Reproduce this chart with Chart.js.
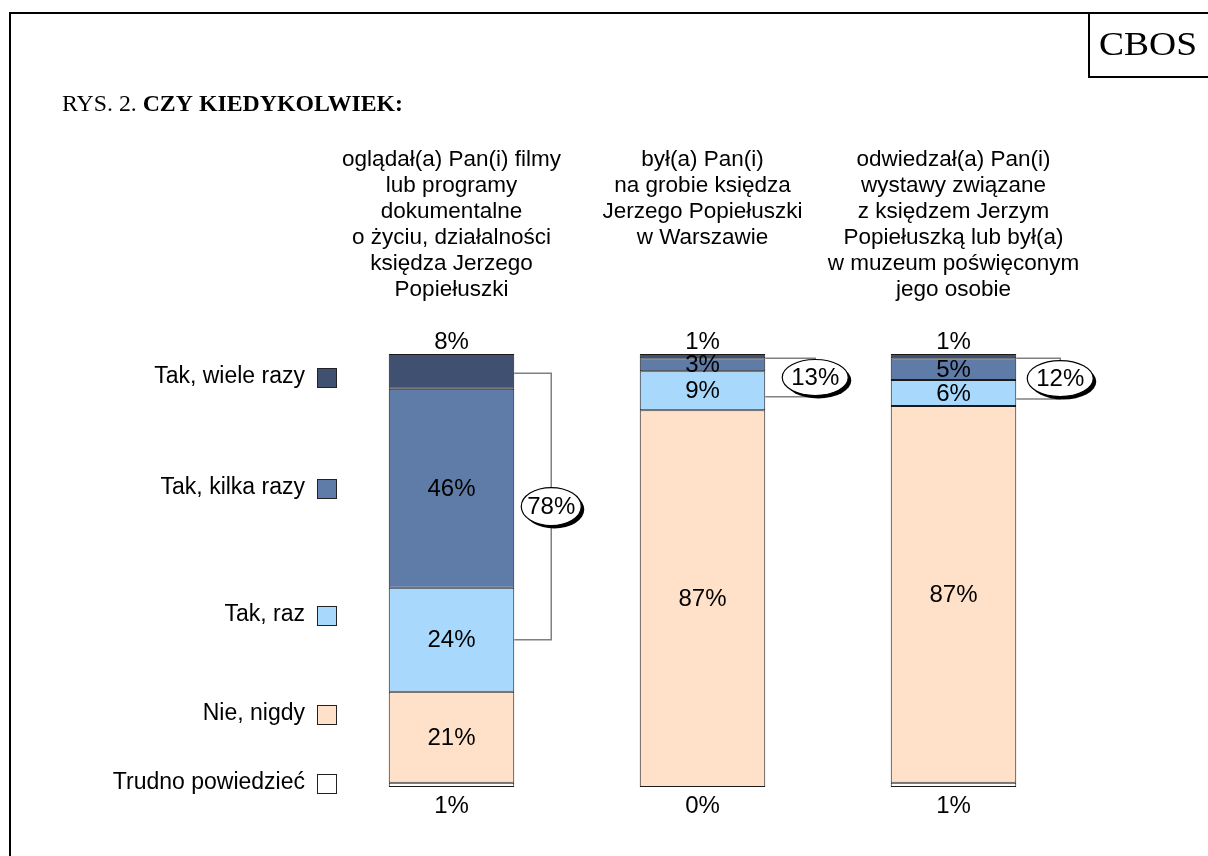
<!DOCTYPE html>
<html>
<head>
<meta charset="utf-8">
<script src="https://cdn.jsdelivr.net/npm/chart.js@4/dist/chart.umd.min.js"></script>
<style>
    body { margin: 0; background: #fff; }
    canvas { display: block; }
</style>
</head>
<body>
<canvas id="chart" width="1208" height="856"></canvas>
<script>
// Data
const categories = [
    ['oglądał(a) Pan(i) filmy', 'lub programy', 'dokumentalne', 'o życiu, działalności', 'księdza Jerzego', 'Popiełuszki'],
    ['był(a) Pan(i)', 'na grobie księdza', 'Jerzego Popiełuszki', 'w Warszawie'],
    ['odwiedzał(a) Pan(i)', 'wystawy związane', 'z księdzem Jerzym', 'Popiełuszką lub był(a)', 'w muzeum poświęconym', 'jego osobie']
];
const seriesNames = ['Trudno powiedzieć', 'Nie, nigdy', 'Tak, raz', 'Tak, kilka razy', 'Tak, wiele razy'];
const trudno = [1, 0, 1];
const nieNigdy = [21, 87, 87];
const takRaz = [24, 9, 6];
const takKilka = [46, 3, 5];
const takWiele = [8, 1, 1];
const takRazem = [78, 13, 12];
const colors = ['#ffffff', '#ffe0c8', '#a8d8fc', '#5f7ba8', '#3f5070'];

const values = [trudno, nieNigdy, takRaz, takKilka, takWiele];

const FONT = '"Liberation Sans", Arial, sans-serif';
const SERIF = '"Liberation Serif", "Times New Roman", serif';

// legend rows (text right-aligned next to a small square)
const legendY = [783, 714, 615, 488, 377];

function wideText(c, txt, x, y, sx) {
    c.save();
    c.translate(x, y);
    c.scale(sx, 1);
    c.fillText(txt, 0, 0);
    c.restore();
}

const decor = {
    id: 'decor',
    beforeDraw(chart) {
        const c = chart.ctx;
        c.save();
        c.fillStyle = '#fff';
        c.fillRect(0, 0, chart.width, chart.height);
        // frame + CBOS box
        c.strokeStyle = '#000';
        c.lineWidth = 2;
        c.beginPath();
        c.moveTo(10, 856); c.lineTo(10, 13); c.lineTo(1208, 13);
        c.moveTo(1089, 13); c.lineTo(1089, 77); c.lineTo(1208, 77);
        c.stroke();
        c.fillStyle = '#000';
        c.textBaseline = 'middle';
        c.textAlign = 'left';
        c.font = '34px ' + SERIF;
        let w = c.measureText('CBOS').width;
        wideText(c, 'CBOS', 1099, 46, 98 / w);
        // title
        c.font = '23px ' + SERIF;
        const w1 = c.measureText('RYS. 2. ').width;
        c.font = 'bold 23px ' + SERIF;
        const w2 = c.measureText('CZY KIEDYKOLWIEK:').width;
        const sx = 341 / (w1 + w2);
        c.font = '23px ' + SERIF;
        wideText(c, 'RYS. 2. ', 62, 105, sx);
        c.font = 'bold 23px ' + SERIF;
        wideText(c, 'CZY KIEDYKOLWIEK:', 62 + w1 * sx, 105, sx);
        // category headers
        const xs = chart.scales.x;
        c.font = '22.5px ' + FONT;
        c.textAlign = 'center';
        categories.forEach((lines, j) => {
            const x = xs.getPixelForValue(j);
            lines.forEach((ln, k) => c.fillText(ln, x, 160 + k * 26));
        });
        // legend
        c.font = '23px ' + FONT;
        c.textAlign = 'right';
        seriesNames.forEach((name, i) => {
            const y = legendY[i];
            c.fillStyle = '#000';
            c.fillText(name, 305, y);
            c.fillStyle = colors[i];
            c.fillRect(317, y - 9, 19, 19);
            c.strokeStyle = '#222';
            c.lineWidth = 1;
            c.strokeRect(317.5, y - 8.5, 19, 19);
        });
        c.restore();
    },
    afterDatasetsDraw(chart) {
        const c = chart.ctx;
        c.save();
        c.fillStyle = '#000';
        c.font = '24px ' + FONT;
        c.textAlign = 'center';
        c.textBaseline = 'middle';
        const last = values.length - 1;
        values.forEach((arr, i) => {
            const meta = chart.getDatasetMeta(i);
            meta.data.forEach((bar, j) => {
                let y;
                if (i === 0) y = bar.base + 19;
                else if (i === last) y = bar.y - 12;
                else y = (bar.y + bar.base) / 2 + 1;
                c.fillText(arr[j] + '%', bar.x, y);
            });
        });
        // brackets with "Tak" totals
        const offs = [37, 50, 44];
        takRazem.forEach((tot, j) => {
            const top = chart.getDatasetMeta(last).data[j];
            const bot = chart.getDatasetMeta(2).data[j];
            const x0 = top.x + top.width / 2;
            const x1 = x0 + offs[j];
            const y0 = (top.y + top.base) / 2 + 2;
            const y1 = (bot.y + bot.base) / 2 + (j ? 6 : 0);
            c.strokeStyle = '#808080';
            c.lineWidth = 1.5;
            c.beginPath();
            c.moveTo(x0, y0); c.lineTo(x1, y0); c.lineTo(x1, y1); c.lineTo(x0, y1);
            c.stroke();
            const cy = (y0 + y1) / 2;
            const rx = j ? 33 : 30, ry = j ? 18 : 19;
            c.fillStyle = '#000';
            c.beginPath();
            c.ellipse(x1 + 3, cy + 3, rx, ry, 0, 0, Math.PI * 2);
            c.fill();
            c.fillStyle = '#fff';
            c.strokeStyle = '#000';
            c.lineWidth = 1.2;
            c.beginPath();
            c.ellipse(x1, cy, rx, ry, 0, 0, Math.PI * 2);
            c.fill();
            c.stroke();
            c.fillStyle = '#000';
            c.font = '24px ' + FONT;
            c.fillText(tot + '%', x1, cy + 1);
        });
        c.restore();
    }
};

new Chart(document.getElementById('chart'), {
    type: 'bar',
    data: {
        labels: categories.map(l => l.join(' ')),
        datasets: values.map((arr, i) => ({
            label: seriesNames[i],
            data: arr,
            backgroundColor: colors[i],
            borderColor: '#1a1a1a',
            borderWidth: 1,
            borderSkipped: false,
            barPercentage: 1,
            categoryPercentage: 0.5
        }))
    },
    options: {
        responsive: false,
        animation: false,
        layout: { padding: { left: 326, right: 129, top: 354, bottom: 69 } },
        plugins: { legend: { display: false }, tooltip: { enabled: false } },
        scales: {
            x: { stacked: true, display: false },
            y: { stacked: true, display: false, min: 0, max: 100 }
        }
    },
    plugins: [decor]
});
</script>
</body>
</html>
